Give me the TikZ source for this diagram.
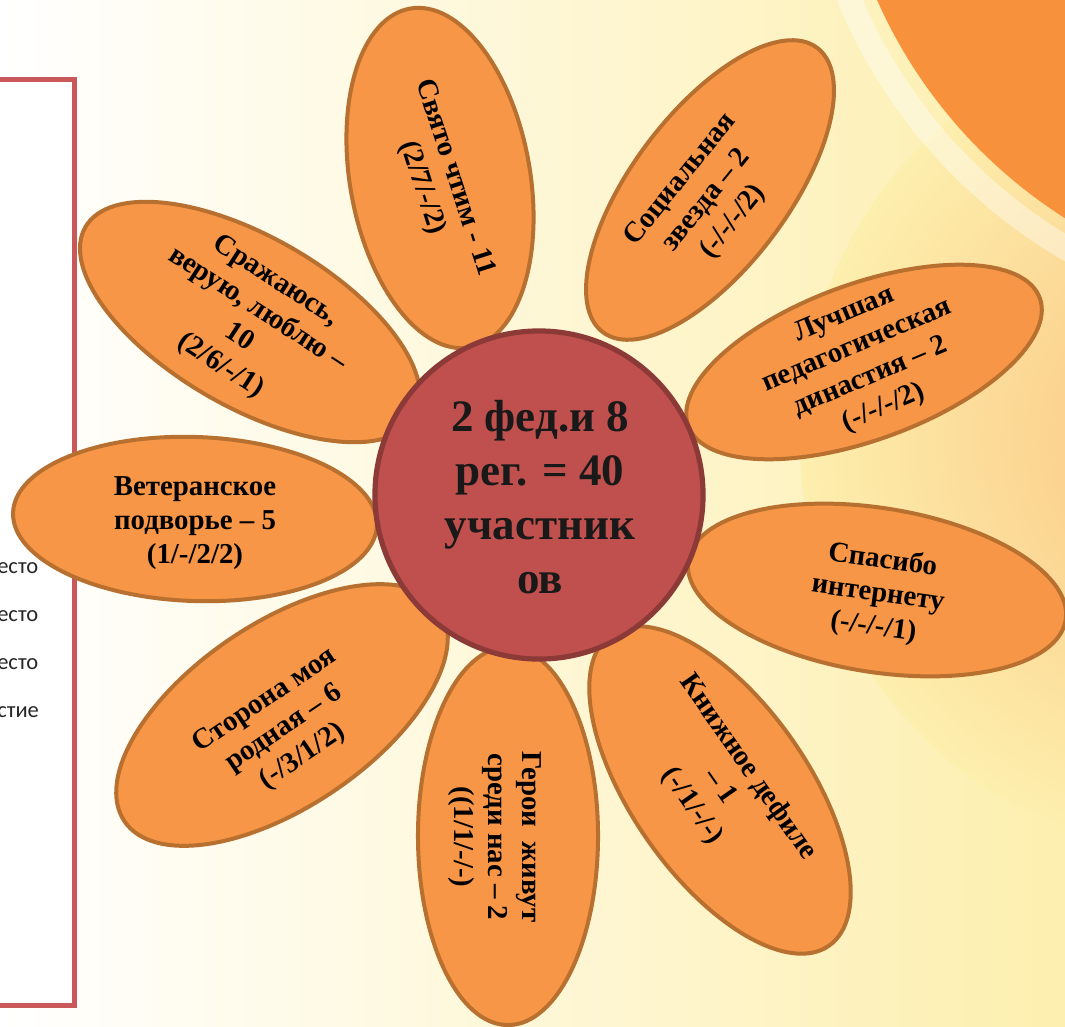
\documentclass[tikz,border=0pt]{standalone}
\usepackage{fontspec}
\setmainfont{Liberation Serif}
\newfontfamily\sidefont{Carlito}
\usepackage{tikz}
\usetikzlibrary{shapes.geometric}

\definecolor{petalfill}{HTML}{F79646}
\definecolor{petalline}{HTML}{B7702F}
\definecolor{corefill}{HTML}{C0504D}
\definecolor{coreline}{HTML}{8C3A38}
\definecolor{boxline}{HTML}{C9585A}
\definecolor{bgcream}{HTML}{FEF6D0}
\definecolor{bgyellow}{HTML}{FDEFAE}
\definecolor{decoorange}{HTML}{F8913B}
\definecolor{decopeach}{HTML}{FBC27E}

\tikzset{
  petal/.style = {ellipse , draw = petalline , fill = petalfill , line width = 0.1cm , inner sep = 0pt},
  petaltext/.style = {align = center , inner sep = 0pt , font = \fontsize{20.5}{24}\selectfont\bfseries},
  coretext/.style = {align = center , inner sep = 0pt , text = black!90 , font = \fontsize{32}{38.5}\selectfont\bfseries},
  sidetext/.style = {anchor = base west , inner sep = 0pt , text = black!85 , font = \sidefont\fontsize{16}{19}\selectfont}
}

\begin{document}
\begin{tikzpicture}[x = 0.025cm , y = -0.025cm]
    \useasboundingbox (0 , 0) rectangle (1065 , 1026);
    \clip (0 , 0) rectangle (1065 , 1026);
    \shade[left color = white , middle color = bgcream , right color = bgyellow] (0 , 0) rectangle (1065 , 1026); % Фон
    \shade[inner color = decopeach , outer color = bgyellow] (1220 , 440) circle (420);
    \draw[white , opacity = 0.4 , line width = 0.6cm] (1330 , -200) circle (520);
    \fill[decoorange] (1330 , -200) circle (495);

    % Рамка слева
    \draw[boxline , line width = 0.125cm , fill = white] (-20 , 79) rectangle (74.5 , 1005);
    \node[sidetext] (r1) at (-3 , 573) {есто};
    \node[sidetext] (r2) at (-3 , 621) {есто};
    \node[sidetext] (r3) at (-3 , 669) {есто};
    \node[sidetext] (r4) at (-3 , 717) {стие};

    % Лепестки
    \node[petal , minimum width = 8.6cm , minimum height = 4.5cm , rotate = -80] (svyato) at (440 , 178) {};
    \node[petal , minimum width = 8.9cm , minimum height = 3.9cm , rotate = 53] (social) at (710 , 190) {};
    \node[petal , minimum width = 9.35cm , minimum height = 3.9cm , rotate = 20] (dynasty) at (864 , 362) {};
    \node[petal , minimum width = 9.55cm , minimum height = 4.1cm , rotate = -9] (internet) at (877 , 590) {};
    \node[petal , minimum width = 9.5cm , minimum height = 4.4cm , rotate = -55] (books) at (720 , 790) {};
    \node[petal , minimum width = 9.45cm , minimum height = 4.5cm , rotate = -90] (heroes) at (508 , 836) {};
    \node[petal , minimum width = 9.5cm , minimum height = 4.6cm , rotate = 34] (rodnaya) at (282 , 715) {};
    \node[petal , minimum width = 9.1cm , minimum height = 4.1cm , rotate = -2] (veteran) at (195 , 519) {};
    \node[petal , minimum width = 9.5cm , minimum height = 4.25cm , rotate = -30] (fight) at (250 , 322) {};

    \node[petaltext , rotate = -72] (svyatoT) at (438 , 183) {Свято чтим - 11\\(2/7/-/2)};
    \node[petaltext , rotate = 51] (socialT) at (707 , 201) {Социальная\\звезда – 2\\(-/-/-/2)};
    \node[petaltext , rotate = 23] (dynastyT) at (864 , 362) {Лучшая\\педагогическая\\династия – 2\\(-/-/-/2)};
    \node[petaltext , rotate = -8] (internetT) at (878 , 594) {Спасибо\\интернету\\(-/-/-/1)};
    \node[petaltext , rotate = -55] (booksT) at (720 , 787) {Книжное дефиле\\– 1\\(-/1/-/-)};
    \node[petaltext , rotate = -90] (heroesT) at (495 , 837) {Герои\ \ живут\\среди нас – 2\\((1/1/-/-)};
    \node[petaltext , rotate = 34] (rodnayaT) at (284 , 729) {Сторона моя\\родная – 6\\(-/3/1/2)};
    \node[petaltext] (veteranT) at (195 , 523) {Ветеранское\\подворье – 5\\(1/-/2/2)};
    \node[petaltext , rotate = -33] (fightT) at (248 , 324) {Сражаюсь,\\верую, люблю –\\10\\(2/6/-/1)};

    % Середина
    \node[circle , draw = coreline , fill = corefill , line width = 0.13cm , minimum size = 8.2cm , inner sep = 0pt] (core) at (539 , 495) {};
    \node[coretext] (coreT) at (540 , 497) {2 фед.и 8\\рег. = 40\\участник\\ов};
\end{tikzpicture}
\end{document}
